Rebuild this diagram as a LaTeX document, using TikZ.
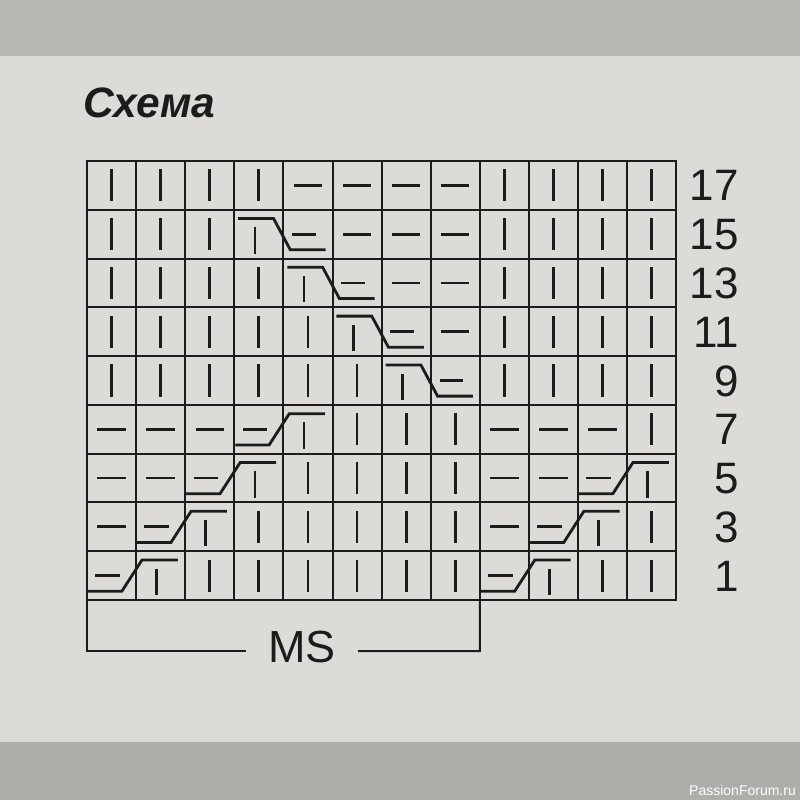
\documentclass[tikz,border=0pt]{standalone}
\usepackage{fontspec}
\setmainfont{Liberation Sans}
\definecolor{paper}{HTML}{DCDBD7}
\definecolor{topband}{HTML}{B8B6B2}
\definecolor{botband}{HTML}{AEADAA}
\definecolor{ink}{HTML}{1C1C1C}
\tikzset{
  gridline/.style={draw=ink, line width=2pt},
  sym/.style={draw=ink, line width=2.8pt},
  rownum/.style={anchor=base east, text=ink, inner sep=0pt, font=\fontsize{44}{50}\selectfont},
}
\begin{document}
\begin{tikzpicture}[x=1pt,y=-1pt]
\useasboundingbox (0,0) rectangle (800,800);
\fill[paper] (0,0) rectangle (800,800);
\fill[topband] (0,0) rectangle (800,56);
\fill[botband] (0,742) rectangle (800,800);

\node[anchor=base west, inner sep=0pt, text=ink, font=\bfseries\itshape\fontsize{42.5}{48}\selectfont] (title) at (83,117) {Схема};

\begin{scope}[shift={(87,161)}, x=49.1pt, y=-48.78pt]
  % grid
  \foreach \i in {1,...,11} \draw[gridline] (\i,0) -- (\i,9);
  \foreach \j in {1,...,8} \draw[gridline] (0,\j) -- (12,\j);
  \draw[gridline, line join=miter] (0,0) rectangle (12,9);
  % knit stitches
  \foreach \c/\r in {1/0,2/0,3/0,4/0,9/0,10/0,11/0,12/0,
                     1/1,2/1,3/1,9/1,10/1,11/1,12/1,
                     1/2,2/2,3/2,4/2,9/2,10/2,11/2,12/2,
                     1/3,2/3,3/3,4/3,5/3,9/3,10/3,11/3,12/3,
                     1/4,2/4,3/4,4/4,5/4,6/4,9/4,10/4,11/4,12/4,
                     6/5,7/5,8/5,12/5,
                     5/6,6/6,7/6,8/6,
                     4/7,5/7,6/7,7/7,8/7,12/7,
                     3/8,4/8,5/8,6/8,7/8,8/8,11/8,12/8}
    \draw[sym] (\c-0.5,\r+0.17) -- (\c-0.5,\r+0.83);
  % purl stitches
  \foreach \c/\r in {5/0,6/0,7/0,8/0,
                     6/1,7/1,8/1,
                     7/2,8/2,
                     8/3,
                     1/5,2/5,3/5,9/5,10/5,11/5,
                     1/6,2/6,9/6,10/6,
                     1/7,9/7}
    \draw[sym] (\c-0.79,\r+0.5) -- (\c-0.21,\r+0.5);
  % cables crossing down to the right
  \foreach \c/\r in {4/1,5/2,6/3,7/4}{
    \draw[sym] (\c-1+0.08,\r+0.18) -- (\c-1+0.8,\r+0.18) -- (\c-1+1.14,\r+0.82) -- (\c-1+1.86,\r+0.82);
    \draw[sym] (\c-1+0.42,\r+0.36) -- (\c-1+0.42,\r+0.9);
    \draw[sym] (\c-1+1.18,\r+0.5) -- (\c-1+1.66,\r+0.5);
  }
  % cables crossing up to the right
  \foreach \c/\r in {4/5,3/6,11/6,2/7,10/7,1/8,9/8}{
    \draw[sym] (\c-1+0.02,\r+0.82) -- (\c-1+0.71,\r+0.82) -- (\c-1+1.12,\r+0.18) -- (\c-1+1.85,\r+0.18);
    \draw[sym] (\c-1+0.17,\r+0.5) -- (\c-1+0.67,\r+0.5);
    \draw[sym] (\c-1+1.42,\r+0.36) -- (\c-1+1.42,\r+0.9);
  }
  % anchors for the MS bracket
  \coordinate (bl) at (0,9);
  \coordinate (br) at (8,9);
\end{scope}

% row numbers
\foreach \n [count=\k from 0] in {17,15,13,11,9,7,5,3,1}
  \node[rownum] (r\n) at (739,{161+48.78*(\k+0.5)+15.5}) {\n};

% MS bracket
\node[anchor=base, inner sep=0pt, text=ink, font=\fontsize{45}{52}\selectfont] (ms) at (302,662) {MS};
\coordinate (bll) at (87,651);
\coordinate (brr) at (479.8,651);
\draw[gridline] (bl) -- (bll) -- (246,651);
\draw[gridline] (358,651) -- (brr) -- (br);

\node[anchor=base east, inner sep=0pt, text=white, font=\fontsize{14}{16}\selectfont] (wm) at (796,795) {PassionForum.ru};
\end{tikzpicture}
\end{document}
